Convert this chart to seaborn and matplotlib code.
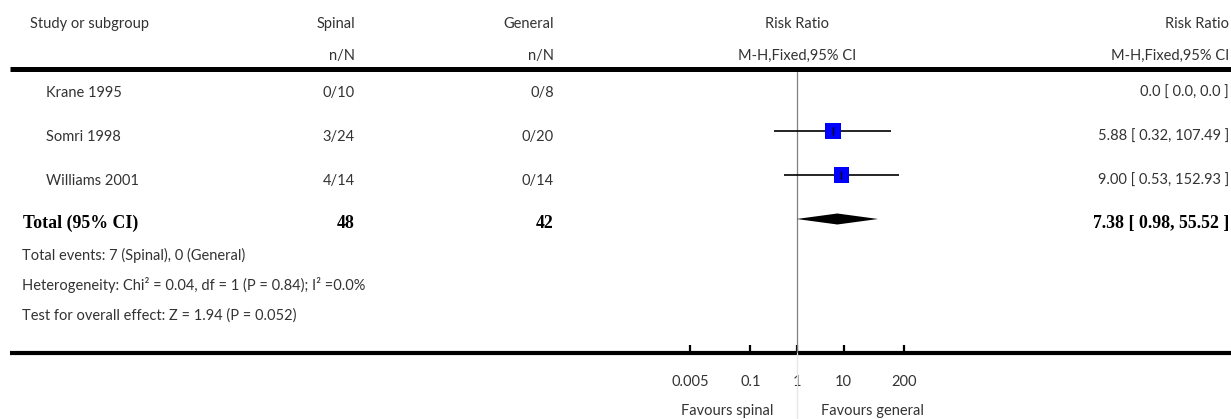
import numpy as np
import pandas as pd
import matplotlib
matplotlib.use("Agg")
import matplotlib.pyplot as plt
import seaborn as sns

# ---------------- data ----------------
studies = ["Krane 1995", "Somri 1998", "Williams 2001"]
spinal_events = [0, 3, 4]
spinal_total = [10, 24, 14]
general_events = [0, 0, 0]
general_total = [8, 20, 14]
rr = [0.0, 5.88, 9.00]
rr_low = [0.0, 0.32, 0.53]
rr_high = [0.0, 107.49, 152.93]

total_spinal = 48
total_general = 42
total_rr = 7.38
total_low = 0.98
total_high = 55.52

footer_lines = [
    "Total events: 7 (Spinal), 0 (General)",
    "Heterogeneity: Chi\u00b2 = 0.04, df = 1 (P = 0.84); I\u00b2 =0.0%",
    "Test for overall effect: Z = 1.94 (P = 0.052)",
]
tick_values = [0.005, 0.1, 1, 10, 200]
tick_labels = ["0.005", "0.1", "1", "10", "200"]
favours_left = "Favours spinal"
favours_right = "Favours general"

# ---------------- style ----------------
sns.set_theme(style="white")
plt.rcParams["font.family"] = ["Lato", "DejaVu Sans"]
TXT = "#333333"
FS = 10.5
BOLD_SERIF = dict(family=["Liberation Serif", "DejaVu Serif"], weight="bold", size=12.8, color="black")

W, H = 1231, 419
fig = plt.figure(figsize=(W / 100, H / 100), dpi=100)

# background axes in pixel coordinates for the table layout
bg = fig.add_axes([0, 0, 1, 1])
bg.set_xlim(0, W)
bg.set_ylim(H, 0)
bg.axis("off")

X_STUDY_HDR = 30
X_STUDY = 46
X_TOTAL = 23
X_SPINAL = 355
X_GENERAL = 554
X_PLOT_C = 797
X_RIGHT = 1229

def t(x, y, s, ha="left", **kw):
    kw.setdefault("fontsize", FS)
    kw.setdefault("color", TXT)
    bg.text(x, y, s, ha=ha, va="baseline", **kw)

# header
t(X_STUDY_HDR, 28, "Study or subgroup")
t(X_SPINAL, 28, "Spinal", ha="right")
t(X_GENERAL, 28, "General", ha="right")
t(X_PLOT_C, 28, "Risk Ratio", ha="center")
t(X_RIGHT, 28, "Risk Ratio", ha="right")
t(X_SPINAL, 60, "n/N", ha="right")
t(X_GENERAL, 60, "n/N", ha="right")
t(X_PLOT_C, 60, "M-H,Fixed,95% CI", ha="center")
t(X_RIGHT, 60, "M-H,Fixed,95% CI", ha="right")

bg.plot([10, W], [69.5, 69.5], color="black", lw=3.6, solid_capstyle="butt")
bg.plot([10, W], [353, 353], color="black", lw=3.0, solid_capstyle="butt")

ROW0 = 87
ROWSTEP = 44
for i, name in enumerate(studies):
    yb = ROW0 + i * ROWSTEP + 10
    t(X_STUDY, yb, name)
    t(X_SPINAL, yb, f"{spinal_events[i]}/{spinal_total[i]}", ha="right")
    t(X_GENERAL, yb, f"{general_events[i]}/{general_total[i]}", ha="right")
    if rr[i] > 0:
        s = f"{rr[i]:.2f} [ {rr_low[i]:.2f}, {rr_high[i]:.2f} ]"
    else:
        s = f"{rr[i]:.1f} [ {rr_low[i]:.1f}, {rr_high[i]:.1f} ]"
    t(X_RIGHT, yb, s, ha="right")

yb_total = ROW0 + 3 * ROWSTEP + 9
bg.text(X_TOTAL, yb_total, "Total (95% CI)", ha="left", va="baseline", **BOLD_SERIF)
bg.text(X_SPINAL, yb_total, f"{total_spinal}", ha="right", va="baseline", **BOLD_SERIF)
bg.text(X_GENERAL, yb_total, f"{total_general}", ha="right", va="baseline", **BOLD_SERIF)
bg.text(X_RIGHT, yb_total, f"{total_rr:.2f} [ {total_low:.2f}, {total_high:.2f} ]",
        ha="right", va="baseline", **BOLD_SERIF)

for k, line in enumerate(footer_lines):
    t(22, 260 + 30 * k, line)

t(773, 415, favours_left, ha="right")
t(821, 415, favours_right, ha="left")

# ---------------- forest plot axes ----------------
PX_L, PX_R, PX_T, PX_B = 690, 904, 72, 353
fa = fig.add_axes([PX_L / W, (H - PX_B) / H, (PX_R - PX_L) / W, (PX_B - PX_T) / H])
fa.patch.set_alpha(0)

df = pd.DataFrame({"study": studies, "rr": rr, "low": rr_low, "high": rr_high,
                   "row": np.arange(len(studies))})
est = df[df["rr"] > 0]

fa.axvline(1, color="#808080", lw=0.9, zorder=1)
fa.axvline(1, ymin=-0.235, ymax=0, color="#e6e6e6", lw=0.9, clip_on=False, zorder=1)
fa.hlines(est["row"], est["low"], est["high"], color="black", lw=1.2, zorder=2)
sns.scatterplot(data=est, x="rr", y="row", marker="s", s=125, color="#0000ff",
                edgecolor="none", linewidth=0, ax=fa, zorder=3, legend=False)
fa.scatter(est["rr"], est["row"], marker="|", s=30, color="black", linewidths=1.0, zorder=4)

trow = len(studies)
h = 0.125
fa.fill([total_low, total_rr, total_high, total_rr], [trow, trow - h, trow, trow + h],
        color="black", lw=0, zorder=3)

fa.set_xscale("log")
fa.set_xlim(0.005, 200)
top = (PX_T - ROW0) / ROWSTEP
bottom = (PX_B - ROW0) / ROWSTEP
fa.set_ylim(bottom, top)
fa.set_xticks(tick_values)
fa.set_xticklabels(tick_labels)
fa.minorticks_off()
fa.set_yticks([])
fa.set_xlabel("")
fa.set_ylabel("")
for sp in fa.spines.values():
    sp.set_visible(False)
fa.tick_params(axis="x", which="major", direction="in", length=5.5, width=1.6,
               color="black", pad=15.5, labelsize=FS, labelcolor=TXT, bottom=True)
fa.grid(False)

fig.savefig("out.png", dpi=100)
